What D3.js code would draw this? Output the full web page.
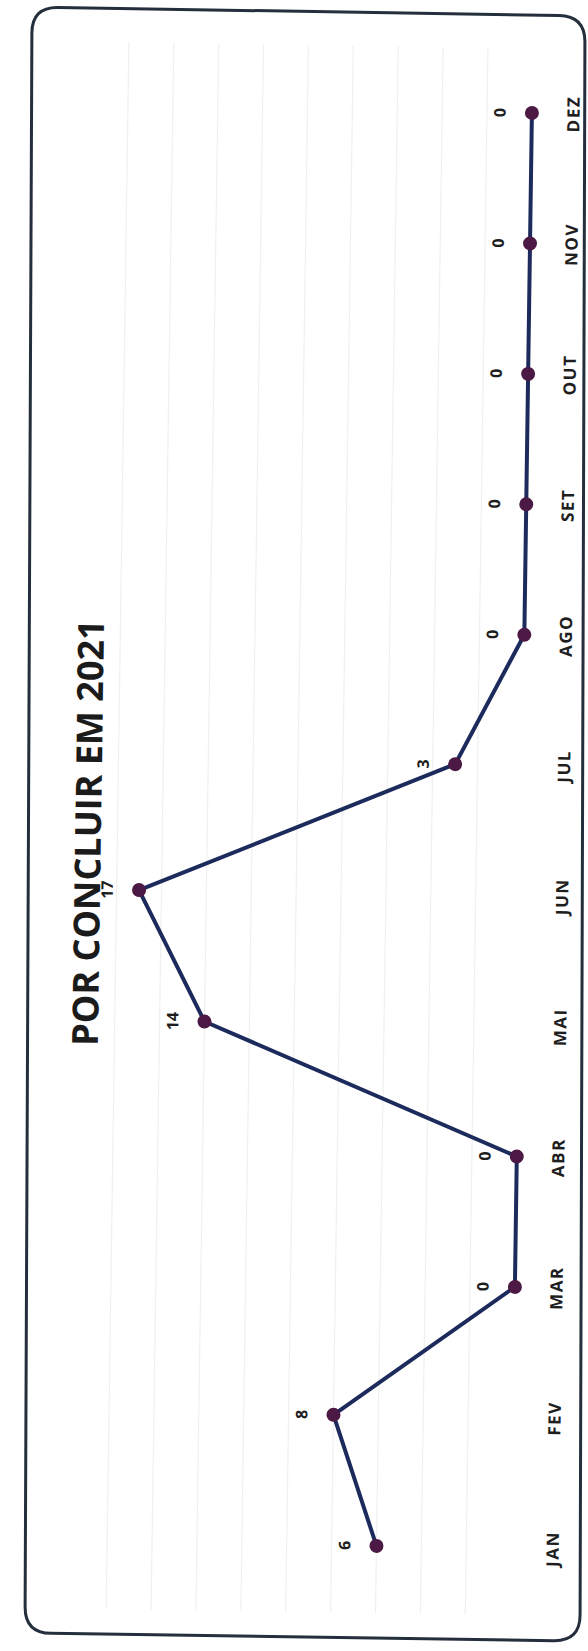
<!DOCTYPE html>
<html><head><meta charset="utf-8">
<script src="https://cdn.jsdelivr.net/npm/d3@7"></script>
<style>html,body{margin:0;padding:0;background:#fff;} svg{display:block}</style>
</head><body>
<svg id="c" width="588" height="1651"></svg>
<script>
const months = ["JAN","FEV","MAR","ABR","MAI","JUN","JUL","AGO","SET","OUT","NOV","DEZ"];
const values = [6,8,0,0,14,17,3,0,0,0,0,0];
const gridTicks = [2,4,6,8,10,12,14,16,18];
const titleText = "POR CONCLUIR EM 2021";

const data = months.map((m,i)=>({m, v: values[i]}));
const svg = d3.select("#c");

// scanned frame (rounded, slightly skewed)
const corners = [[32,7],[585,16],[580,1641],[25,1633]];
function roundedPoly(pts, r){
  const n = pts.length; let d = "";
  for(let i=0;i<n;i++){
    const p = pts[i], a = pts[(i-1+n)%n], b = pts[(i+1)%n];
    const da = Math.hypot(a[0]-p[0], a[1]-p[1]), db = Math.hypot(b[0]-p[0], b[1]-p[1]);
    const pin = [p[0]+(a[0]-p[0])*r/da, p[1]+(a[1]-p[1])*r/da];
    const pout = [p[0]+(b[0]-p[0])*r/db, p[1]+(b[1]-p[1])*r/db];
    d += (i===0? "M":"L") + pin[0]+","+pin[1] + "Q"+p[0]+","+p[1]+" "+pout[0]+","+pout[1];
  }
  return d+"Z";
}
svg.append("path").attr("d", roundedPoly(corners, 26))
  .attr("fill","none").attr("stroke","#242e3c").attr("stroke-width",3);

const g = svg.append("g").attr("transform","rotate(0.83,320,830)");

const yPos = d3.scalePoint().domain(months).range([1545,110]);
const xVal = d3.scaleLinear().domain([0,18]).range([521.5,117.5]);

// faint gridlines
g.selectAll("line.grid").data(gridTicks).join("line").attr("class","grid")
  .attr("x1",d=>xVal(d)).attr("x2",d=>xVal(d))
  .attr("y1",45).attr("y2",1612)
  .attr("stroke","#f0f0f0").attr("stroke-width",1.2);

// title
g.append("text").text(titleText)
  .attr("transform","translate(88,836) rotate(-90)")
  .attr("text-anchor","middle").attr("dy","0.36em")
  .attr("font-family","'Open Sans', sans-serif").attr("font-weight","bold")
  .attr("font-size",36).attr("fill","#1b1b1b");

// month axis
const ax = g.append("g").attr("transform","translate(563,0)")
  .call(d3.axisRight(yPos).tickSize(0).tickPadding(0));
ax.select(".domain").remove();
ax.selectAll("text")
  .attr("x",0).attr("y",0).attr("dy","0.36em")
  .attr("transform","rotate(-90)")
  .attr("text-anchor","middle")
  .attr("font-family","'Open Sans', sans-serif").attr("font-weight","bold")
  .attr("font-size",17).attr("letter-spacing",1.5).attr("fill","#1e1e1e");

// line
const line = d3.line().x(d=>xVal(d.v)).y(d=>yPos(d.m));
g.append("path").datum(data).attr("d",line)
  .attr("fill","none").attr("stroke","#1c2a5c").attr("stroke-width",4)
  .attr("stroke-linejoin","round");

// markers
g.selectAll("circle.pt").data(data).join("circle").attr("class","pt")
  .attr("cx",d=>xVal(d.v)).attr("cy",d=>yPos(d.m)).attr("r",7)
  .attr("fill","#4b1943");

// value labels
g.selectAll("text.val").data(data).join("text").attr("class","val")
  .attr("transform",d=>`translate(${xVal(d.v)-32},${yPos(d.m)}) rotate(-90)`)
  .attr("text-anchor","middle").attr("dy","0.36em")
  .attr("font-family","'Open Sans', sans-serif").attr("font-weight","bold")
  .attr("font-size",16).attr("fill","#1e1e1e")
  .text(d=>d.v);
</script>
</body></html>
